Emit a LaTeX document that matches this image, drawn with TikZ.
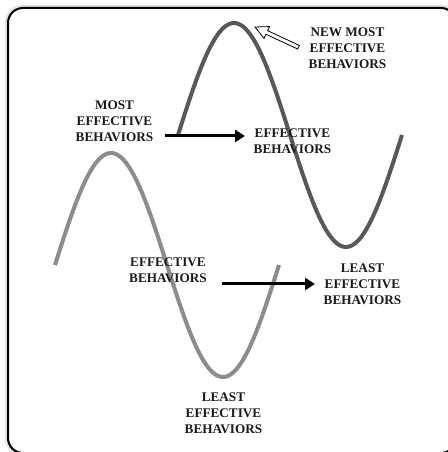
\documentclass[tikz,border=0pt]{standalone}
\usepackage{fontspec}
\setmainfont{Liberation Serif}
\usetikzlibrary{arrows.meta}
\definecolor{darkwave}{HTML}{585858}
\definecolor{lightwave}{HTML}{8C8C8C}
\tikzset{
  lbl/.style={font=\fontsize{13.2}{16.2}\selectfont\bfseries, align=center, inner sep=0pt, text=black!90},
  wave/.style={line width=4pt, line cap=butt},
  shift arrow/.style={line width=3pt, -{Triangle[length=10pt,width=12pt]}},
}
\begin{document}
\begin{tikzpicture}[x=1pt,y=1pt]
\useasboundingbox (0,0) rectangle (447,452);
\fill[white] (0,0) rectangle (447,452);
% frame with faint shadow
\draw[black!12, line width=3pt, rounded corners=16pt] (6.5,-2.5) rectangle (458,445.5);
\draw[black, line width=2pt, rounded corners=15pt] (8,-1) rectangle (456,444);
% waves
\draw[wave, lightwave] plot[domain=0:224, samples=120, smooth] ({55+\x},{187+112*sin(\x*1.607143)});
\draw[wave, darkwave] plot[domain=0:224, samples=120, smooth] ({178+\x},{317+112*sin(\x*1.607143)});
% labels
\node[lbl] (most) at (114.5,331) {MOST\\EFFECTIVE\\BEHAVIORS};
\node[lbl] (eff1) at (292.5,310.5) {EFFECTIVE\\BEHAVIORS};
\node[lbl] (newmost) at (347.5,403.5) {NEW MOST\\EFFECTIVE\\BEHAVIORS};
\node[lbl] (eff2) at (168,181.5) {EFFECTIVE\\BEHAVIORS};
\node[lbl] (least1) at (362.5,168) {LEAST\\EFFECTIVE\\BEHAVIORS};
\node[lbl] (least2) at (223.5,39) {LEAST\\EFFECTIVE\\BEHAVIORS};
% shift arrows
\coordinate (a1s) at (165,316);
\coordinate (a1e) at (245,316);
\coordinate (a2s) at (222,168);
\coordinate (a2e) at (315,168);
\draw[shift arrow] (a1s) -- (a1e);
\draw[shift arrow] (a2s) -- (a2e);
% hollow arrow to new peak
\coordinate (peaktip) at (255,425);
\begin{scope}[shift={(peaktip)}, rotate={atan2(-20,43)}]
  \draw[black, fill=white, line width=0.8pt, line join=miter]
    (0,0) -- (13,6.5) -- (13,2) -- (48,2) -- (48,-2) -- (13,-2) -- (13,-6.5) -- cycle;
\end{scope}
\end{tikzpicture}
\end{document}
